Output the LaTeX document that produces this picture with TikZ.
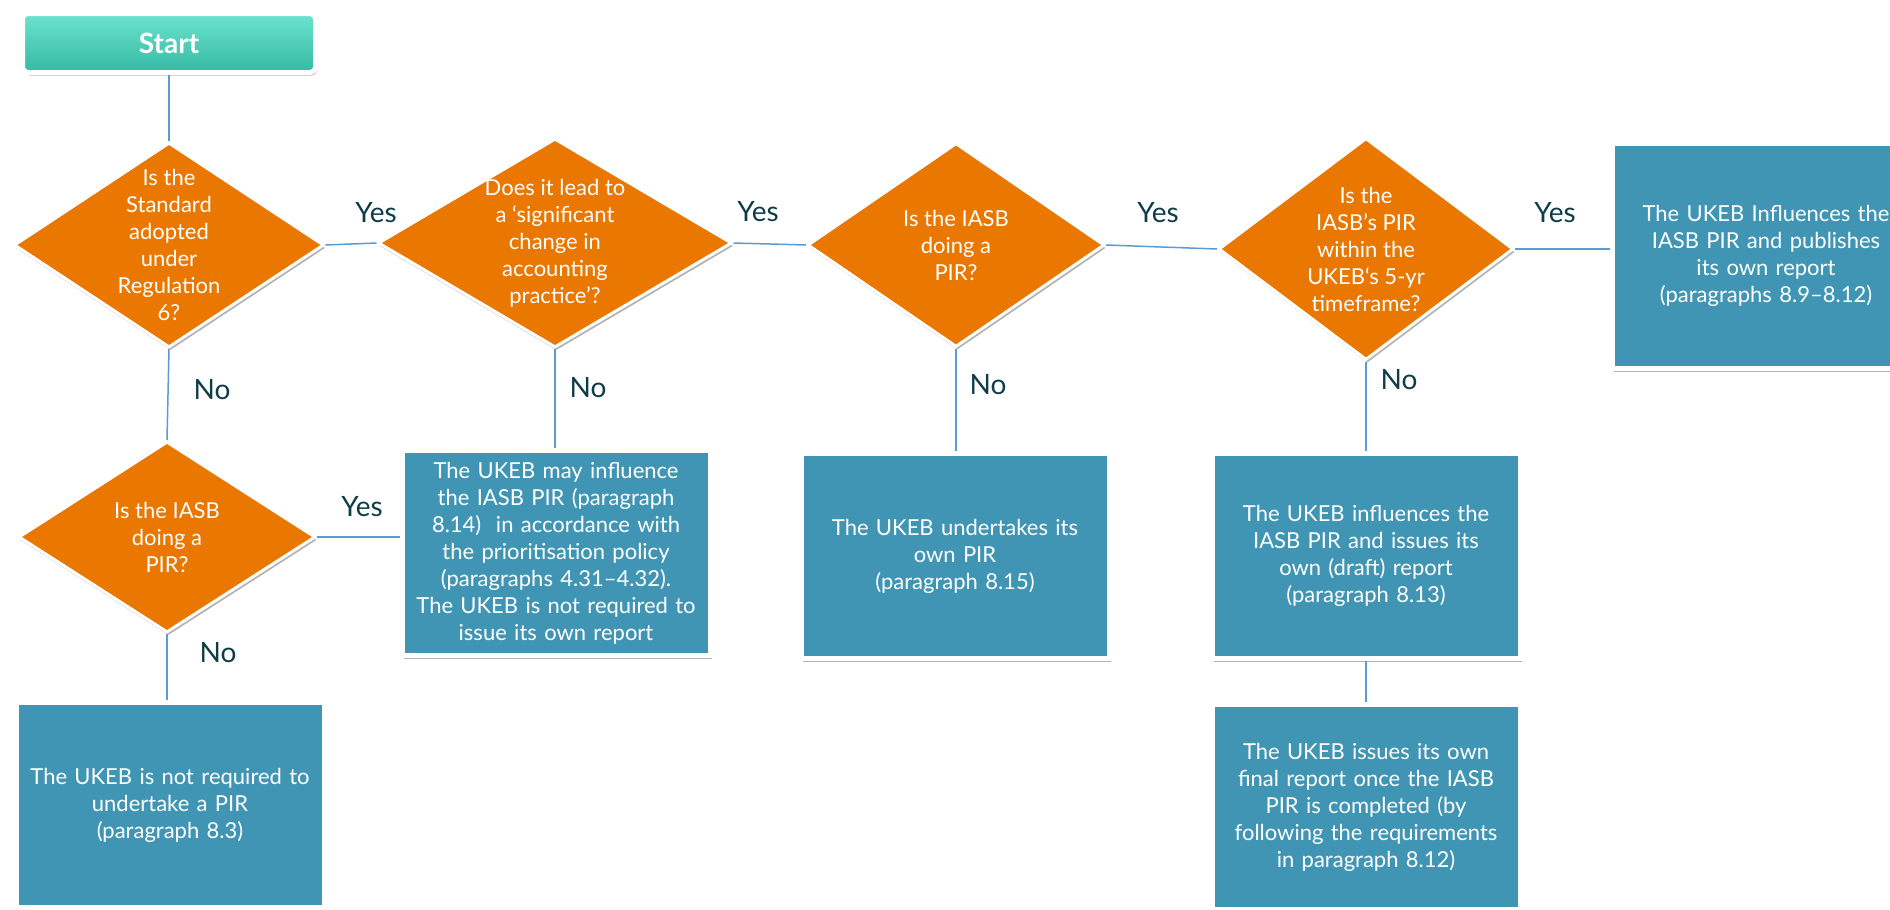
\documentclass[tikz,border=0pt]{standalone}
\usepackage{fontspec}
\setmainfont{Lato}
\usetikzlibrary{shapes.geometric,shadows}

\definecolor{askorange}{HTML}{E97700}
\definecolor{resblue}{HTML}{4195B4}
\definecolor{linkblue}{HTML}{5B9BD5}
\definecolor{answerteal}{HTML}{0E3D49}
\definecolor{starttop}{HTML}{6BE3CF}
\definecolor{startbot}{HTML}{36B9A2}

\tikzset{
  softshadow/.style={drop shadow={shadow xshift=1.5pt, shadow yshift=-3pt, opacity=.3, fill=black}},
  link/.style={draw=linkblue, line width=1.5pt},
  startbox/.style={rectangle, rounded corners=6pt, minimum width=293pt, minimum height=59pt,
    top color=starttop, bottom color=startbot, draw=white, line width=5pt,
    text=white, font=\bfseries\fontsize{28}{32}\selectfont, softshadow},
  ask/.style={diamond, fill=askorange, draw=white, line width=3pt, inner sep=0pt, softshadow},
  asktext/.style={text=white, align=center, inner sep=0pt, font=\fontsize{22}{27}\selectfont},
  result/.style={rectangle, fill=resblue, draw=white, line width=5pt,
    minimum width=308pt, minimum height=205pt, text width=298pt, align=center,
    text=white, font=\fontsize{22}{27}\selectfont, softshadow},
  answer/.style={text=answerteal, font=\fontsize{28}{32}\selectfont},
}

\begin{document}
\begin{tikzpicture}[x=1pt, y=-1pt]
    \path[fill=white, use as bounding box] (0,0) rectangle (1890,910);

    % Start
    \node[startbox] (start) at (169,43) {Start};

    % Questions
    \node[ask, minimum width=310pt, minimum height=205pt,
      label={[asktext]center:{Is the\\Standard\\adopted\\under\\Regulation\\6?}}] (q1) at (169,245) {};
    \node[ask, minimum width=354pt, minimum height=209pt,
      label={[asktext]center:{Does it lead to\\a ‘significant\\change in\\accounting\\practice’?}}] (q2) at (555,243) {};
    \node[ask, minimum width=297pt, minimum height=204pt,
      label={[asktext]center:{Is the IASB\\doing a\\PIR?}}] (q3) at (956,245) {};
    \node[ask, minimum width=295pt, minimum height=222pt,
      label={[asktext]center:{Is the\\IASB’s PIR\\within the\\UKEB‘s 5-yr\\timeframe?}}] (q4) at (1366,249) {};
    \node[ask, minimum width=297pt, minimum height=191pt,
      label={[asktext]center:{Is the IASB\\doing a\\PIR?}}] (q5) at (167,537) {};

    % Outcomes
    \node[result, minimum height=225pt] (rA) at (1766,256)
      {The UKEB Influences the\\IASB PIR and publishes\\its own report\\(paragraphs 8.9–8.12)};
    \node[result] (rB) at (556,553)
      {The UKEB may influence\\the IASB PIR (paragraph\\8.14) \ in accordance with\\the prioritisation policy\\(paragraphs 4.31–4.32).\\The UKEB is not required to\\issue its own report};
    \node[result] (rC) at (170,805)
      {The UKEB is not required to\\undertake a PIR\\(paragraph 8.3)};
    \node[result] (rD) at (955,556)
      {The UKEB undertakes its\\own PIR\\(paragraph 8.15)};
    \node[result] (rE) at (1366,556)
      {The UKEB influences the\\IASB PIR and issues its\\own (draft) report\\(paragraph 8.13)};
    \node[result] (rF) at (1366,807)
      {The UKEB issues its own\\final report once the IASB\\PIR is completed (by\\following the requirements\\in paragraph 8.12)};

    % Connectors
    \draw[link] (start.south) -- (q1.north);
    \draw[link] (q1.east) -- (q2.west);
    \draw[link] (q2.east) -- (q3.west);
    \draw[link] (q3.east) -- (q4.west);
    \draw[link] (q4.east) -- (q4.east -| rA.west);
    \draw[link] (q1.south) -- (q5.north);
    \draw[link] (q5.east) -- (q5.east -| rB.west);
    \draw[link] (q5.south) -- (q5.south |- rC.north);
    \draw[link] (q2.south) -- (q2.south |- rB.north);
    \draw[link] (q3.south) -- (q3.south |- rD.north);
    \draw[link] (q4.south) -- (q4.south |- rE.north);
    \draw[link] (rE) -- (rF);

    % Yes / No
    \node[answer] (yes1) at (376,213) {Yes};
    \node[answer] (yes2) at (758,212) {Yes};
    \node[answer] (yes3) at (1158,213) {Yes};
    \node[answer] (yes4) at (1555,213) {Yes};
    \node[answer] (yes5) at (362,507) {Yes};
    \node[answer] (no1) at (212,390) {No};
    \node[answer] (no2) at (588,388) {No};
    \node[answer] (no3) at (988,385) {No};
    \node[answer] (no4) at (1399,380) {No};
    \node[answer] (no5) at (218,653) {No};
\end{tikzpicture}
\end{document}
